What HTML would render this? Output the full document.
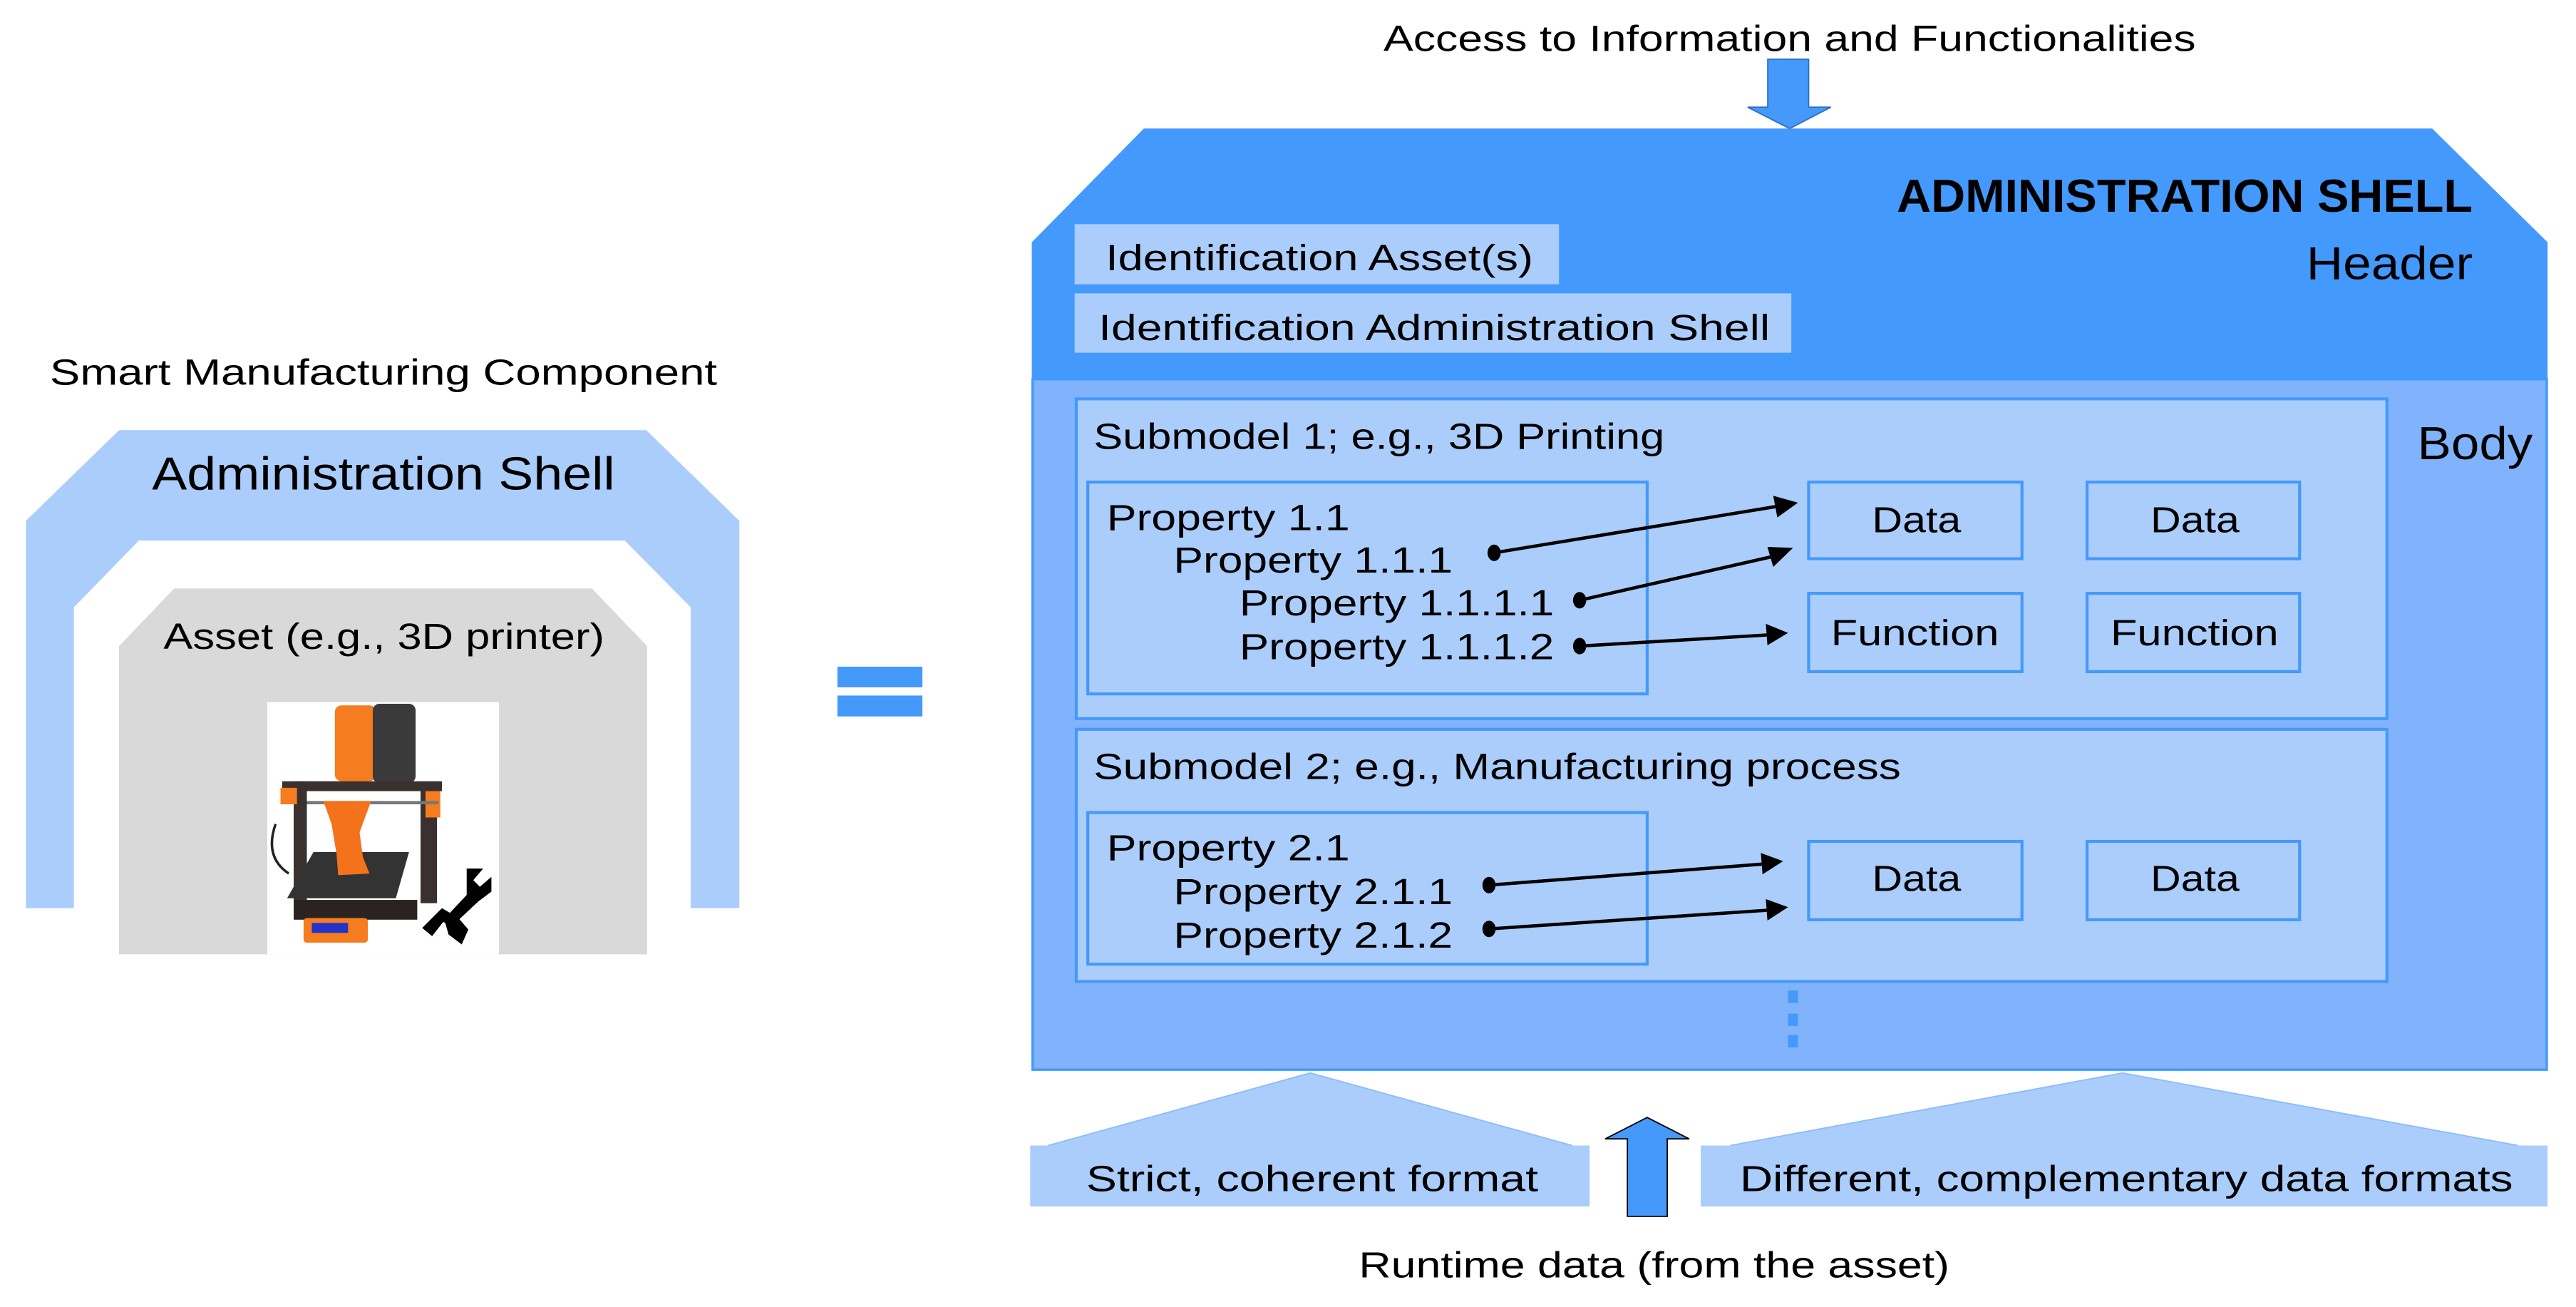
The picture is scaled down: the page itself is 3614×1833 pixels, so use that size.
<!DOCTYPE html>
<html><head><meta charset="utf-8"><style>html,body{margin:0;padding:0;background:#fff}svg{display:block}text{font-family:"Liberation Sans",sans-serif;fill:#000}</style></head><body>
<svg width="3614" height="1833" viewBox="0 0 1563 793" xmlns="http://www.w3.org/2000/svg">
<defs><marker id="ah" markerWidth="8" markerHeight="8" refX="7" refY="4" orient="auto" markerUnits="userSpaceOnUse"><path d="M0,0 L0,0"/></marker></defs>
<!-- LEFT -->
<text x="30" y="233.5" font-size="22" textLength="405" lengthAdjust="spacingAndGlyphs">Smart Manufacturing Component</text>
<polygon fill="#abcdfb" points="15.5,551 15.5,316 72,261 392,261 448.5,316 448.5,551 419,551 419,368.5 379,328 84,328 44.6,368.5 44.6,551"/>
<text x="92" y="297" font-size="28" textLength="281" lengthAdjust="spacingAndGlyphs">Administration Shell</text>
<polygon fill="#d9d9d9" points="72,579 72,392 105.5,357 359,357 392.5,392 392.5,579"/>
<text x="99" y="393.6" font-size="22" textLength="267.6" lengthAdjust="spacingAndGlyphs">Asset (e.g., 3D printer)</text>
<rect x="162" y="426" width="140.6" height="153" fill="#fff"/>
<!-- printer -->
<rect x="203" y="428" width="25" height="46" rx="4" fill="#f57c1f"/>
<rect x="226" y="427" width="26" height="48" rx="4" fill="#3a3a3a"/>
<rect x="171" y="474" width="97" height="6" fill="#3a3030"/>
<rect x="178" y="474" width="8" height="75" fill="#3a3030"/>
<rect x="255" y="476" width="10" height="72" fill="#3a3030"/>
<rect x="170" y="478" width="10" height="10" fill="#f57c1f"/>
<rect x="258" y="480" width="9" height="16" fill="#f57c1f"/>
<rect x="186" y="486" width="80" height="2" fill="#777"/>
<path d="M167,500 Q160,520 175,530" stroke="#222" stroke-width="1.5" fill="none"/>
<polygon fill="#333" points="190,517 248,517 240,545 174,545"/>
<path d="M196,486 L225,486 L218,505 L220,520 L224,530 L205,531 L204,518 L201,500 Z" fill="#f5721c"/>
<rect x="178" y="546" width="75" height="12" fill="#2b2222"/>
<rect x="184" y="557" width="39" height="15" rx="2" fill="#f57c1f"/>
<rect x="189" y="560" width="22" height="6" fill="#2233cc"/>
<g fill="#000"><path d="M283,527 l10,0 -6,7 4,4 7,-6 0,9 -8,6 -16,15 -6,-3 15,-16 z"/><path d="M256,563 l12,-12 5,3 -11,14 z"/><path d="M270,560 l8,-3 6,7 -4,9 -8,-6 z"/></g>
<!-- equals -->
<rect x="508" y="404.5" width="51.6" height="12.5" fill="#4499fb"/>
<rect x="508" y="422" width="51.6" height="12.7" fill="#4499fb"/>
<!-- RIGHT top -->
<text x="839.5" y="31" font-size="22" textLength="493" lengthAdjust="spacingAndGlyphs">Access to Information and Functionalities</text>
<polygon fill="#4499fb" stroke="#2c6fc4" stroke-width="0.8" points="1072.7,36 1097.5,36 1097.5,65 1111,65 1086,78 1060.5,65 1072.7,65"/>
<polygon fill="#4499fd" points="626,230 626,147 694,78 1476,78 1546,147 1546,230"/>
<rect x="626" y="230" width="920" height="419" fill="#80b3fb"/>
<rect x="626.5" y="230" width="919" height="419" fill="none" stroke="#4499fb" stroke-width="1.5"/>
<text x="1151" y="128.4" font-size="28" font-weight="bold" textLength="349.5" lengthAdjust="spacingAndGlyphs">ADMINISTRATION SHELL</text>
<text x="1399.6" y="169.4" font-size="28" textLength="101" lengthAdjust="spacingAndGlyphs">Header</text>
<rect x="652" y="136" width="294" height="36.5" fill="#abcdfb"/>
<text x="670.8" y="164" font-size="22" textLength="259.5" lengthAdjust="spacingAndGlyphs">Identification Asset(s)</text>
<rect x="652" y="178" width="435" height="36" fill="#abcdfb"/>
<text x="666.5" y="206.4" font-size="22" textLength="407.5" lengthAdjust="spacingAndGlyphs">Identification Administration Shell</text>
<text x="1467" y="278.6" font-size="28" textLength="70" lengthAdjust="spacingAndGlyphs">Body</text>
<!-- Submodel 1 -->
<rect x="653" y="242" width="795.5" height="194" fill="#abcdfb" stroke="#4499fb" stroke-width="1.8"/>
<text x="663.5" y="272.3" font-size="22" textLength="346.5" lengthAdjust="spacingAndGlyphs">Submodel 1; e.g., 3D Printing</text>
<rect x="660" y="292.5" width="339.5" height="128.5" fill="#abcdfb" stroke="#4499fb" stroke-width="1.8"/>
<text x="671.5" y="321.7" font-size="22" textLength="147.5" lengthAdjust="spacingAndGlyphs">Property 1.1</text>
<text x="712" y="347.5" font-size="22" textLength="169.5" lengthAdjust="spacingAndGlyphs">Property 1.1.1</text>
<text x="752" y="373.3" font-size="22" textLength="191" lengthAdjust="spacingAndGlyphs">Property 1.1.1.1</text>
<text x="752" y="400" font-size="22" textLength="191" lengthAdjust="spacingAndGlyphs">Property 1.1.1.2</text>
<g fill="#abcdfb" stroke="#4499fb" stroke-width="1.8">
<rect x="1097.5" y="292.5" width="129.5" height="46.5"/><rect x="1266.5" y="292.5" width="129" height="46.5"/>
<rect x="1097.5" y="360" width="129.5" height="47.5"/><rect x="1266.5" y="360" width="129" height="47.5"/>
</g>
<text x="1136" y="323" font-size="22" textLength="54" lengthAdjust="spacingAndGlyphs">Data</text>
<text x="1305" y="323" font-size="22" textLength="54" lengthAdjust="spacingAndGlyphs">Data</text>
<text x="1111" y="391.5" font-size="22" textLength="102" lengthAdjust="spacingAndGlyphs">Function</text>
<text x="1280.7" y="391.5" font-size="22" textLength="102" lengthAdjust="spacingAndGlyphs">Function</text>
<!-- Submodel 2 -->
<rect x="653" y="442.5" width="795.5" height="153" fill="#abcdfb" stroke="#4499fb" stroke-width="1.8"/>
<text x="663.5" y="472.7" font-size="22" textLength="490" lengthAdjust="spacingAndGlyphs">Submodel 2; e.g., Manufacturing process</text>
<rect x="660" y="493" width="339.5" height="92" fill="#abcdfb" stroke="#4499fb" stroke-width="1.8"/>
<text x="671.5" y="522" font-size="22" textLength="147.5" lengthAdjust="spacingAndGlyphs">Property 2.1</text>
<text x="712" y="548.5" font-size="22" textLength="169.5" lengthAdjust="spacingAndGlyphs">Property 2.1.1</text>
<text x="712" y="575" font-size="22" textLength="169.5" lengthAdjust="spacingAndGlyphs">Property 2.1.2</text>
<g fill="#abcdfb" stroke="#4499fb" stroke-width="1.8">
<rect x="1097.5" y="510.5" width="129.5" height="47.5"/><rect x="1266.5" y="510.5" width="129" height="47.5"/>
</g>
<text x="1136" y="540.6" font-size="22" textLength="54" lengthAdjust="spacingAndGlyphs">Data</text>
<text x="1305" y="540.6" font-size="22" textLength="54" lengthAdjust="spacingAndGlyphs">Data</text>
<!-- connectors -->
<g stroke="#000" stroke-width="2" fill="#000">
<line x1="906.6" y1="335.4" x2="1078" y2="307.3"/><polygon points="1091,305 1076,300.8 1078.5,314" stroke="none"/>
<line x1="958.5" y1="364.2" x2="1075" y2="337.8"/><polygon points="1088,332.4 1072.5,331.8 1076,344" stroke="none"/>
<line x1="958.5" y1="392" x2="1072" y2="385.3"/><polygon points="1085,384 1071.5,378.5 1072.5,391.5" stroke="none"/>
<line x1="903.5" y1="537" x2="1069" y2="524.3"/><polygon points="1082,522.5 1068.5,517.5 1069.5,530.5" stroke="none"/>
<line x1="903.5" y1="563.6" x2="1072" y2="552.3"/><polygon points="1085,550.4 1071.5,545.5 1072.5,558.5" stroke="none"/>
<ellipse cx="906.6" cy="335.4" rx="4" ry="5" stroke="none"/>
<ellipse cx="958.5" cy="364.2" rx="4" ry="5" stroke="none"/>
<ellipse cx="958.5" cy="392" rx="4" ry="5" stroke="none"/>
<ellipse cx="903.5" cy="537" rx="4" ry="5" stroke="none"/>
<ellipse cx="903.5" cy="563.6" rx="4" ry="5" stroke="none"/>
</g>
<g fill="#4499fb"><rect x="1085" y="601" width="6" height="7.5"/><rect x="1085" y="615" width="6" height="7.5"/><rect x="1085" y="628" width="6" height="7.5"/></g>
<!-- bottom -->
<polygon fill="#abcdfb" points="625,732 625,695 636,695 795,651 954,695 964.6,695 964.6,732"/>
<polyline fill="none" stroke="#8dbcf8" stroke-width="0.8" points="636,695 795,651 954,695"/>
<polygon fill="#abcdfb" points="1032,732 1032,695 1050,695 1288,651 1528,695 1546,695 1546,732"/>
<polyline fill="none" stroke="#8dbcf8" stroke-width="0.8" points="1050,695 1288,651 1528,695"/>
<text x="659" y="722.6" font-size="22" textLength="274.4" lengthAdjust="spacingAndGlyphs">Strict, coherent format</text>
<text x="1055.8" y="722.6" font-size="22" textLength="469.2" lengthAdjust="spacingAndGlyphs">Different, complementary data formats</text>
<polygon fill="#4499fb" stroke="#000" stroke-width="0.8" points="987.5,738 1011.7,738 1011.7,691 1025,691 999.5,678 974,691 987.5,691"/>
<text x="824.5" y="775" font-size="22" textLength="358.5" lengthAdjust="spacingAndGlyphs">Runtime data (from the asset)</text>
</svg>
</body></html>
